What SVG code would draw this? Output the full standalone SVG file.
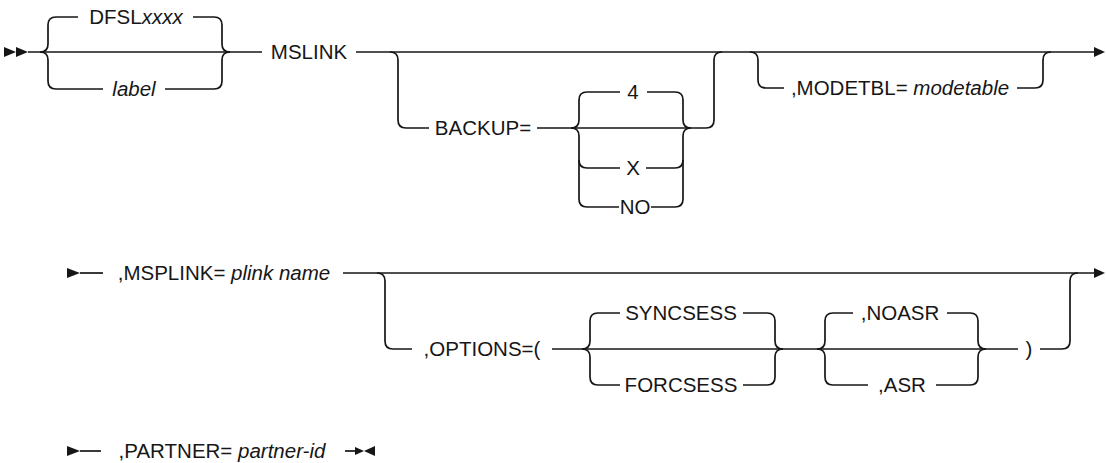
<svg xmlns="http://www.w3.org/2000/svg" width="1106" height="463" viewBox="0 0 1106 463">
<style>
.l{fill:none;stroke:#161616;stroke-width:1.7}
.a{fill:#161616;stroke:none}
.t{font-family:"Liberation Sans",Arial,sans-serif;font-size:20.5px;fill:#161616;text-anchor:middle}
.i{font-style:italic}
</style>
<rect width="1106" height="463" fill="#ffffff"/>
<g id="connectors">
<!-- row 1 -->
<polygon class="a" points="4,47 4,57 16,52"/>
<polygon class="a" points="16,47 16,57 28,52"/>
<path class="l" d="M28,52 H262"/>
<path class="l" d="M40,52 Q48,52 48,44 V25 Q48,17 56,17 H78"/>
<path class="l" d="M193,17 H214 Q222,17 222,25 V44 Q222,52 230,52"/>
<path class="l" d="M40,52 Q48,52 48,60 V81 Q48,89 56,89 H103"/>
<path class="l" d="M165,89 H214 Q222,89 222,81 V60 Q222,52 230,52"/>
<path class="l" d="M356,52 H1094"/>
<polygon class="a" points="1094,47 1094,57 1105,52"/>
<path class="l" d="M390,52 Q398,52 398,60 V120 Q398,128 406,128 H429"/>
<path class="l" d="M537,128 H706 Q714,128 714,120 V60 Q714,52 722,52"/>
<path class="l" d="M571,128 Q579,128 579,120 V100 Q579,92 587,92 H620"/>
<path class="l" d="M647,92 H675 Q683,92 683,100 V120 Q683,128 691,128"/>
<path class="l" d="M571,128 Q579,128 579,136 V199 Q579,207 587,207 H619"/>
<path class="l" d="M651,207 H675 Q683,207 683,199 V136 Q683,128 691,128"/>
<path class="l" d="M579,160 Q579,168 587,168 H620"/>
<path class="l" d="M646,168 H675 Q683,168 683,160"/>
<path class="l" d="M750,52 Q758,52 758,60 V80 Q758,88 766,88 H784"/>
<path class="l" d="M1017,88 H1035 Q1043,88 1043,80 V60 Q1043,52 1051,52"/>
<!-- row 2 -->
<polygon class="a" points="67,268 67,278 80,273"/>
<path class="l" d="M80,273 H103"/>
<path class="l" d="M343,273 H1094"/>
<polygon class="a" points="1094,268 1094,278 1105,273"/>
<path class="l" d="M377,273 Q385,273 385,281 V341 Q385,349 393,349 H412"/>
<path class="l" d="M552,349 H1018"/>
<path class="l" d="M1040,349 H1062 Q1070,349 1070,341 V281 Q1070,273 1078,273"/>
<path class="l" d="M582,349 Q590,349 590,341 V321 Q590,313 598,313 H620"/>
<path class="l" d="M743,313 H767 Q775,313 775,321 V341 Q775,349 783,349"/>
<path class="l" d="M582,349 Q590,349 590,357 V377 Q590,385 598,385 H620"/>
<path class="l" d="M743,385 H767 Q775,385 775,377 V357 Q775,349 783,349"/>
<path class="l" d="M817,349 Q825,349 825,341 V321 Q825,313 833,313 H853"/>
<path class="l" d="M947,313 H970 Q978,313 978,321 V341 Q978,349 986,349"/>
<path class="l" d="M817,349 Q825,349 825,357 V377 Q825,385 833,385 H868"/>
<path class="l" d="M936,385 H970 Q978,385 978,377 V357 Q978,349 986,349"/>
<!-- row 3 -->
<polygon class="a" points="67,446 67,456 80,451"/>
<path class="l" d="M80,451 H101"/>
<path class="l" d="M345,451 H356"/>
<polygon class="a" points="355,447 355,455 364,451"/>
<polygon class="a" points="364,451 375,446 375,456"/>
</g>
<g id="n-dfsl"><text class="t" x="136" y="24">DFSL<tspan class="i">xxxx</tspan></text></g>
<g id="n-label"><text class="t i" x="134" y="96">label</text></g>
<g id="n-mslink"><text class="t" x="309" y="59">MSLINK</text></g>
<g id="n-backup"><text class="t" x="483" y="135">BACKUP=</text></g>
<g id="n-4"><text class="t" x="633" y="99">4</text></g>
<g id="n-x"><text class="t" x="633" y="175">X</text></g>
<g id="n-no"><text class="t" x="635" y="214">NO</text></g>
<g id="n-modetbl"><text class="t" x="900" y="95">,MODETBL= <tspan class="i">modetable</tspan></text></g>
<g id="n-msplink"><text class="t" x="224" y="280">,MSPLINK= <tspan class="i">plink name</tspan></text></g>
<g id="n-options"><text class="t" x="482" y="356">,OPTIONS=(</text></g>
<g id="n-syncsess"><text class="t" x="681" y="320">SYNCSESS</text></g>
<g id="n-forcsess"><text class="t" x="681" y="392">FORCSESS</text></g>
<g id="n-noasr"><text class="t" x="900" y="320">,NOASR</text></g>
<g id="n-asr"><text class="t" x="902" y="392">,ASR</text></g>
<g id="n-paren"><text class="t" x="1029" y="356">)</text></g>
<g id="n-partner"><text class="t" x="222" y="458">,PARTNER= <tspan class="i">partner-id</tspan></text></g>
</svg>
